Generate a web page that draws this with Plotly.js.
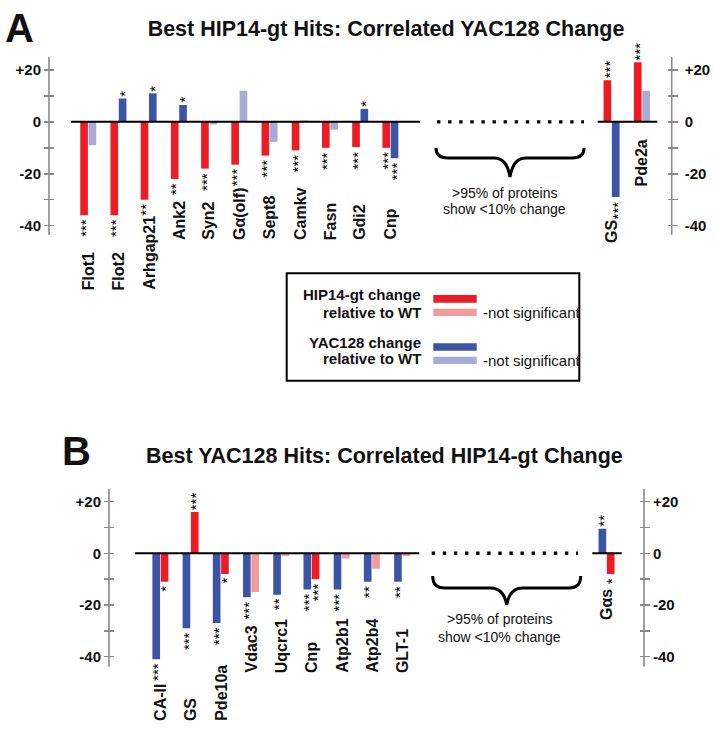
<!DOCTYPE html>
<html><head><meta charset="utf-8">
<script src="https://cdn.plot.ly/plotly-3.0.1.min.js"></script>
<style>html,body{margin:0;padding:0;background:#fff}</style>
</head><body><div id="chart" style="width:714px;height:729px"></div>
<script>
// ---------------- DATA ----------------
// Panel A : Best HIP14-gt hits (left block) and far-right block
const catsA = ['Flot1','Flot2','Arhgap21','Ank2','Syn2','Gα(olf)','Sept8','Camkv','Fasn','Gdi2','Cnp'];
const hipA  = [-36, -36, -30, -22, -18, -16.5, -13, -11, -10, -9.7, -10];
const yacA  = [-9, 9, 11, 6.5, -1, 12, -7.7, 0.5, -3, 5, -14];
const hipSigA = ['***','***','**','**','***','***','***','***','***','***','***'];
const yacSigA = ['','*','*','*','','','','','','*','***'];
const catsA2 = ['GS','Pde2a'];
const hipA2  = [16, 23];
const yacA2  = [-29, 12];
const hipSigA2 = ['***','***'];
const yacSigA2 = ['***',''];
// Panel B : Best YAC128 hits
const catsB = ['CA-II','GS','Pde10a','Vdac3','Uqcrc1','Cnp','Atp2b1','Atp2b4','GLT-1'];
const yacB  = [-41, -29, -27, -17, -16, -14, -14, -11, -11];
const hipB  = [-11, 16, -8, -15, -1, -10, -2, -6, -1];
const yacSigB = ['***','***','***','***','**','***','***','**','**'];
const hipSigB = ['*','***','*','','','***','','',''];
const catsB2 = ['Gαs'];
const yacB2  = [9.5];
const hipB2  = [-8];
const yacSigB2 = ['**'];
const hipSigB2 = ['*'];
// axis ticks
const tickVals = [-40,-30,-20,-10,0,10,20];
const tickText = ['-40','','-20','','0','','+20'];

// ---------------- LAYOUT HELPERS ----------------
const W=714,H=729;
const RED='#EC1C24', RED_NS='#F49A9C', BLUE='#3B54A5', BLUE_NS='#A9AAD5';
const GREY='#8a8a8a', INK='#111111';
const FONT='"Liberation Sans", Arial, sans-serif';
const px = x => x/W;
const py = y => 1-y/H;

const RANGE_A=[-43.6,25], DOM_A=[py(235),py(57)];
const RANGE_B=[-43.9,24.9], DOM_B=[py(666.7),py(489)];

function bar(cats, vals, sig, strong, weak, xa, ya){
  return {type:'bar', x:cats, y:vals, xaxis:xa, yaxis:ya, showlegend:false, hoverinfo:'skip',
    marker:{color:sig.map(s=>s?strong:weak), line:{width:0}}};
}
const data = [
  bar(catsA, hipA, hipSigA, RED, RED_NS, 'x','y'),
  bar(catsA, yacA, yacSigA, BLUE, BLUE_NS, 'x','y'),
  bar(catsA2, hipA2, hipSigA2, RED, RED_NS, 'x2','y2'),
  bar(catsA2, yacA2, yacSigA2, BLUE, BLUE_NS, 'x2','y2'),
  bar(catsB, yacB, yacSigB, BLUE, BLUE_NS, 'x3','y3'),
  bar(catsB, hipB, hipSigB, RED, RED_NS, 'x3','y3'),
  bar(catsB2, yacB2, yacSigB2, BLUE, BLUE_NS, 'x4','y4'),
  bar(catsB2, hipB2, hipSigB2, RED, RED_NS, 'x4','y4')
];

const ann = [];
const shapes = [];
function sigAnn(cats, vals, sig, xa, ya, xshift){
  cats.forEach((c,i)=>{
    if(!sig[i]) return;
    const pos = vals[i] >= 0;
    ann.push({xref:xa, yref:ya, x:c, y:vals[i], text:sig[i], textangle:-90, showarrow:false,
      xanchor:'center', yanchor:pos?'bottom':'top', xshift:xshift+1.5, yshift:pos?0:-2,
      font:{family:FONT, size:15, color:'#000'}});
  });
}
const OFF = 4.2;
sigAnn(catsA, hipA, hipSigA, 'x','y', -OFF);
sigAnn(catsA, yacA, yacSigA, 'x','y', OFF);
sigAnn(catsA2, hipA2, hipSigA2, 'x2','y2', -OFF);
sigAnn(catsA2, yacA2, yacSigA2, 'x2','y2', OFF);
sigAnn(catsB, yacB, yacSigB, 'x3','y3', -OFF);
sigAnn(catsB, hipB, hipSigB, 'x3','y3', OFF);
sigAnn(catsB2, yacB2, yacSigB2, 'x4','y4', -OFF);
sigAnn(catsB2, hipB2, hipSigB2, 'x4','y4', OFF);

// category labels (rotated), bottoms in px
function labels(cats, xa, bottoms){
  cats.forEach((c,i)=>{
    ann.push({xref:xa, yref:'paper', x:c, y:py(bottoms[i]), text:c, textangle:-90, showarrow:false,
      xanchor:'center', yanchor:'bottom', font:{family:FONT, size:16, color:INK, weight:'bold'}});
  });
}
labels(catsA, 'x', [292,292,292,241.7,241.7,241.7,241.7,241.7,241.7,241.7,241.7]);
labels(catsA2, 'x2', [245,188]);
labels(catsB, 'x3', [723,723,723,675,675,675,675,675,675]);
labels(catsB2, 'x4', [622]);

// zero lines
[['x','y'],['x2','y2'],['x3','y3'],['x4','y4']].forEach(([xa,ya])=>{
  shapes.push({type:'line', xref:xa+' domain', yref:ya, x0:0, x1:1, y0:0, y1:0, line:{color:'#000', width:2}});
});
// axis lines
[[49,57,235],[671.7,57,235],[109,489,666.7],[644,489,666.7]].forEach(([x,y0,y1])=>{
  shapes.push({type:'line', xref:'paper', yref:'paper', x0:px(x), x1:px(x), y0:py(y0), y1:py(y1), line:{color:GREY, width:1.6}});
});
// dotted gaps
shapes.push({type:'line', xref:'paper', yref:'y', x0:px(437), x1:px(584), y0:0, y1:0, line:{color:'#000', width:3.4, dash:'3.4px,7.7px'}});
shapes.push({type:'line', xref:'paper', yref:'y3', x0:px(431.7), x1:px(578), y0:0, y1:0, line:{color:'#000', width:3.4, dash:'3.4px,7.7px'}});
// braces
function brace(xL, xR, yTop, dy1, dy2){
  const xm=(xL+xR)/2, yh=yTop+dy1, yt=yTop+dy2;
  const P=(x,y)=>px(x)+','+py(y);
  const path = 'M '+P(xL,yTop)+' Q '+P(xL,yh)+' '+P(xL+12,yh)+' L '+P(xm-16,yh)+' Q '+P(xm-3,yh)+' '+P(xm,yt)+
    ' Q '+P(xm+3,yh)+' '+P(xm+16,yh)+' L '+P(xR-12,yh)+' Q '+P(xR,yh)+' '+P(xR,yTop);
  shapes.push({type:'path', xref:'paper', yref:'paper', path:path, line:{color:'#000', width:3}});
}
brace(436,584,148,10,29);
brace(432.7,580.7,576,12,29);
function note(x,y,t){ann.push({xref:'paper',yref:'paper',x:px(x),y:py(y),text:t,showarrow:false,xanchor:'center',yanchor:'middle',font:{family:FONT,size:14,color:INK}});}
note(504,192.5,'&gt;95% of proteins'); note(504,209,'show &lt;10% change');
note(500,619,'&gt;95% of proteins'); note(500,636.7,'show &lt;10% change');

// legend box
shapes.push({type:'rect', xref:'paper', yref:'paper', x0:px(286.7), x1:px(579.3), y0:py(273.3), y1:py(380.7), line:{color:'#000', width:2}});
[[295,302.7,RED],[308.7,316,RED_NS],[343.3,350.7,BLUE],[356.7,364,BLUE_NS]].forEach(([a,b,c])=>{
  shapes.push({type:'rect', xref:'paper', yref:'paper', x0:px(433.3), x1:px(476.7), y0:py(b), y1:py(a), fillcolor:c, line:{width:0}});
});
function legTxt(x,y,t,anchor,bold){ann.push({xref:'paper',yref:'paper',x:px(x),y:py(y),text:t,showarrow:false,xanchor:anchor,yanchor:'middle',
  font:{family:FONT,size:15,color:INK,weight:bold?'bold':'normal'}});}
legTxt(422.7,294.5,'HIP14-gt change','right',true);
legTxt(422.7,312,'relative to WT','right',true);
legTxt(422.7,342,'YAC128 change','right',true);
legTxt(422.7,358.7,'relative to WT','right',true);
legTxt(480.5,312.3,'-not significant','left',false);
legTxt(480.5,360.3,'-not significant','left',false);

// titles & panel letters
ann.push({xref:'paper',yref:'paper',x:px(384),y:py(456),text:'Best YAC128 Hits: Correlated HIP14-gt Change',showarrow:false,xanchor:'center',yanchor:'middle',
  font:{family:FONT,size:21.5,color:INK,weight:'bold'}});
ann.push({xref:'paper',yref:'paper',x:px(19.5),y:py(27.7),text:'A',showarrow:false,xanchor:'center',yanchor:'middle',font:{family:FONT,size:40,color:INK,weight:'bold'}});
ann.push({xref:'paper',yref:'paper',x:px(76.5),y:py(451),text:'B',showarrow:false,xanchor:'center',yanchor:'middle',font:{family:FONT,size:40,color:INK,weight:'bold'}});

function yax(range, dom, pos, side, standoff){
  return {domain:dom, range:range, anchor:'free', position:pos, side:side, tickmode:'array', tickvals:tickVals, ticktext:tickText,
    ticks:'outside', ticklen:10, tickwidth:1.5, tickcolor:GREY, showline:false, showgrid:false, zeroline:false,
    ticklabelstandoff:standoff, tickfont:{family:FONT,size:15,color:INK,weight:'bold'}, fixedrange:true};
}
function xax(dom, range, anchor){
  return {domain:dom, range:range, type:'category', anchor:anchor, visible:false, fixedrange:true};
}
const layout = {
  width:W, height:H, margin:{l:0,r:0,t:0,b:0}, paper_bgcolor:'#fff', plot_bgcolor:'rgba(0,0,0,0)',
  showlegend:false, barmode:'group', bargap:0.45, bargroupgap:0.08, hovermode:false,
  title:{text:'Best HIP14-gt Hits: Correlated YAC128 Change', font:{family:FONT,size:21.5,color:INK,weight:'bold'},
    x:px(386), xref:'paper', xanchor:'center', y:py(28.6), yref:'paper', yanchor:'middle'},
  xaxis: xax([px(71),px(420)], [-0.57,10.98], 'y'),
  xaxis2: xax([px(597.7),px(657.3)], [-0.457,1.507], 'y2'),
  xaxis3: xax([px(135),px(419.3)], [-0.84,8.57], 'y3'),
  xaxis4: xax([px(592.3),px(621.7)], [-0.47,0.5], 'y4'),
  yaxis: yax(RANGE_A, DOM_A, px(54), 'left', 0),
  yaxis2: yax(RANGE_A, DOM_A, px(666.7), 'right', 4),
  yaxis3: yax(RANGE_B, DOM_B, px(114), 'left', 0),
  yaxis4: yax(RANGE_B, DOM_B, px(639), 'right', 0),
  annotations: ann, shapes: shapes
};
Plotly.newPlot('chart', data, layout, {staticPlot:true, displayModeBar:false});
</script></body></html>
